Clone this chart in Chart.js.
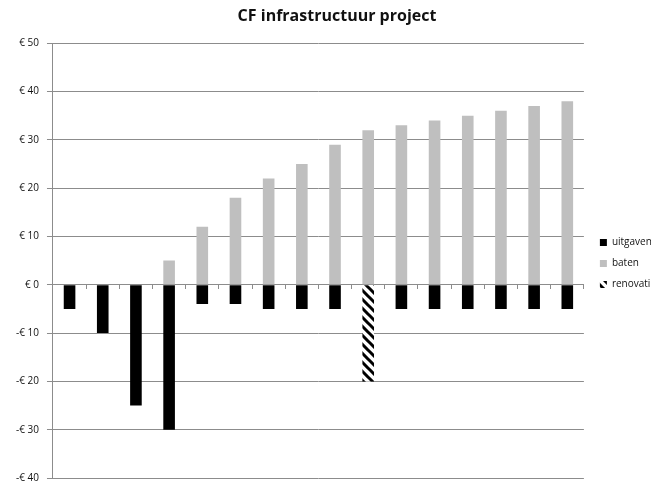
<!DOCTYPE html>
<html>
<head>
<meta charset="utf-8">
<script src="https://cdn.jsdelivr.net/npm/chart.js@4/dist/chart.umd.min.js"></script>
<style>
  html, body { margin: 0; padding: 0; background: #fff; overflow: hidden; }
  /* a bit wider than the window: the legend text runs off the right edge like in the original */
  #wrap { width: 666px; height: 486px; }
</style>
</head>
<body>
<div id="wrap"><canvas id="cf"></canvas></div>
<script>
// --- DATA ---
const jaren = ['1', '2', '3', '4', '5', '6', '7', '8', '9', '10', '11', '12', '13', '14', '15', '16'];
const uitgaven = [-5, -10, -25, -30, -4, -4, -5, -5, -5, null, -5, -5, -5, -5, -5, -5];
const baten = [0, 0, 0, 5, 12, 18, 22, 25, 29, 32, 33, 34, 35, 36, 37, 38];
const renovatie = [null, null, null, null, null, null, null, null, null, -20, null, null, null, null, null, null];

// hatch pattern for renovatie
function hatch() {
    const c = document.createElement('canvas');
    c.width = 9; c.height = 9;
    const g = c.getContext('2d');
    g.fillStyle = '#fff';
    g.fillRect(0, 0, 9, 9);
    g.strokeStyle = '#000';
    g.lineWidth = 3;
    g.beginPath();
    g.moveTo(-3, -3); g.lineTo(12, 12);
    g.moveTo(-3, 6); g.lineTo(3, 12);
    g.moveTo(6, -3); g.lineTo(12, 3);
    g.stroke();
    return g.createPattern(c, 'repeat');
}

const euro = v => (v < 0 ? '-€ ' + Math.abs(v) : '€ ' + v);
const gridGrey = '#8c8c8c';
const barPct = 0.35;

new Chart(document.getElementById('cf'), {
    type: 'bar',
    data: {
        labels: jaren,
        datasets: [
            { label: 'uitgaven', data: uitgaven, backgroundColor: '#000', barPercentage: barPct, categoryPercentage: 1 },
            { label: 'baten', data: baten, backgroundColor: '#bfbfbf', barPercentage: barPct, categoryPercentage: 1 },
            { label: 'renovatie', data: renovatie, backgroundColor: hatch(), barPercentage: barPct, categoryPercentage: 1 }
        ]
    },
    options: {
        responsive: true, maintainAspectRatio: false, animation: false,
        layout: { padding: { top: 0, bottom: 0, left: 8, right: 0 } },
        plugins: {
            title: {
                display: true, text: 'CF infrastructuur project', color: '#111',
                font: { family: 'Open Sans', size: 16, weight: 'bold' },
                padding: { top: 7, bottom: 17 }
            },
            legend: {
                position: 'right',
                // empty title only pushes the items down a little
                title: { display: true, text: '', font: { size: 10 }, padding: { top: 0, bottom: 29 } },
                labels: {
                    boxWidth: 7, boxHeight: 7, padding: 11, color: '#111',
                    font: { family: 'Open Sans', size: 10 }
                }
            },
            tooltip: { enabled: false }
        },
        scales: {
            x: {
                stacked: true,
                position: { y: 0 },
                ticks: { display: false },
                border: { color: gridGrey },
                grid: { drawOnChartArea: false, tickLength: 4, color: gridGrey, offset: true },
                afterFit: s => { s.height = 0; }
            },
            y: {
                stacked: true,
                min: -40, max: 50,
                border: { color: gridGrey },
                grid: { color: gridGrey, tickLength: 6 },
                ticks: {
                    stepSize: 10, color: '#111', padding: 8,
                    font: { family: 'Open Sans', size: 10 },
                    callback: euro
                },
                // room below the plot only for half the last label
                afterFit: s => { s.paddingBottom = 8; }
            },
            // spacer between plot and legend
            gap: {
                type: 'linear', position: 'right', display: true,
                grid: { display: false }, border: { display: false }, ticks: { display: false },
                afterFit: s => { s.width = 5; }
            }
        }
    }
});
</script>
</body>
</html>
